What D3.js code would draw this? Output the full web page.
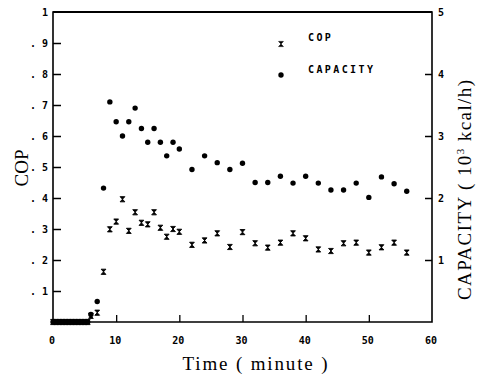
<!DOCTYPE html>
<html><head><meta charset="utf-8">
<script src="https://cdn.jsdelivr.net/npm/d3@7"></script>
<style>body{margin:0;background:#fff}svg{display:block}</style>
</head><body>
<svg id="c" width="480" height="379"></svg>
<script>
const zeroTimes = [0,0.5,1,1.5,2,2.5,3,3.5,4,4.5,5,5.5];
const times = [6,7,8,9,10,11,12,13,14,15,16,17,18,19,20,22,24,26,28,30,32,34,36,38,40,42,44,46,48,50,52,54,56];
const copValues = [0.02,0.03,0.162,0.299,0.324,0.396,0.294,0.354,0.32,0.315,0.354,0.304,0.275,0.30,0.291,0.249,0.263,0.286,0.242,0.29,0.254,0.24,0.256,0.286,0.27,0.234,0.229,0.254,0.256,0.224,0.241,0.256,0.224];
const capacityValues = [0.12,0.33,2.16,3.55,3.23,3.0,3.23,3.45,3.12,2.90,3.12,2.90,2.68,2.90,2.79,2.46,2.68,2.57,2.46,2.56,2.25,2.25,2.35,2.24,2.35,2.24,2.13,2.13,2.24,2.01,2.34,2.23,2.11];
const xTicks = [0,10,20,30,40,50,60];
const copTicks = [0.1,0.2,0.3,0.4,0.5,0.6,0.7,0.8,0.9,1];
const copTickLabels = [". 1",". 2",". 3",". 4",". 5",". 6",". 7",". 8",". 9","1"];
const capTicks = [1,2,3,4,5];

const svg = d3.select('#c');
const L=53, R=432, T=12, B=322;
const x = d3.scaleLinear().domain([0,60]).range([L,R]);
const yCop = d3.scaleLinear().domain([0,1]).range([B,T]);
const yCap = d3.scaleLinear().domain([0,5]).range([B,T]);
const mono = "'DejaVu Sans Mono', monospace";
const serif = "'Liberation Serif','DejaVu Serif',serif";

// frame
svg.append('path').attr('d',`M${L},${T}H${R}V${B}H${L}Z`).attr('fill','none').attr('stroke','#000').attr('stroke-width',1.6);
svg.append('line').attr('x1',L).attr('x2',R).attr('y1',T).attr('y2',T).attr('stroke','#000').attr('stroke-width',2.2);

// left axis
const gl = svg.append('g').attr('transform',`translate(${L},0)`)
  .call(d3.axisRight(yCop).tickValues(copTicks).tickSize(8).tickFormat(''));
gl.select('.domain').remove();
gl.selectAll('line').attr('stroke-width',1.5);
gl.selectAll('.tick').filter(d=>d===1).select('line').remove();
svg.append('g').selectAll('text').data(copTicks).join('text')
  .attr('x',L-5).attr('y',d=>yCop(d)+3.5).attr('text-anchor','end')
  .attr('font-family',mono).attr('font-weight','bold').attr('font-size',10)
  .text((d,i)=>copTickLabels[i]);

// right axis
const gr = svg.append('g').attr('transform',`translate(${R},0)`)
  .call(d3.axisLeft(yCap).tickValues(capTicks).tickSize(7).tickFormat(''));
gr.select('.domain').remove();
gr.selectAll('line').attr('stroke-width',1.5);
gr.selectAll('.tick').filter(d=>d===5).select('line').remove();
svg.append('g').selectAll('text').data(capTicks).join('text')
  .attr('x',R+6).attr('y',d=>yCap(d)+4).attr('text-anchor','start')
  .attr('font-family',mono).attr('font-weight','bold').attr('font-size',10)
  .text(d=>d);

// bottom axis
const gb = svg.append('g').attr('transform',`translate(0,${B})`)
  .call(d3.axisTop(x).tickValues(xTicks.slice(1,-1)).tickSize(7).tickFormat(''));
gb.select('.domain').remove();
gb.selectAll('line').attr('stroke-width',1.3);
svg.append('g').selectAll('text').data(xTicks).join('text')
  .attr('x',d=>x(d)-1).attr('y',B+22).attr('text-anchor','middle')
  .attr('font-family',mono).attr('font-weight','bold').attr('font-size',10)
  .text(d=>d);

// titles
svg.append('text').attr('transform',`translate(28,168) rotate(-90)`).attr('text-anchor','middle')
  .attr('font-family',serif).attr('font-size',19).text('COP');
const capTitle = svg.append('text').attr('transform',`translate(471,190) rotate(-90)`).attr('text-anchor','middle')
  .attr('font-family',serif).attr('font-size',19).attr('textLength',220).attr('lengthAdjust','spacing');
capTitle.append('tspan').text('CAPACITY ( 10');
capTitle.append('tspan').attr('dy',-7).attr('font-size',11).text('3');
capTitle.append('tspan').attr('dy',7).text(' kcal/h)');
svg.append('text').attr('x',255).attr('y',370).attr('text-anchor','middle')
  .attr('font-family',serif).attr('font-size',19).attr('textLength',145).attr('lengthAdjust','spacing').text('Time ( minute )');

// markers
const hg = 'M-2.4,-2.6L2.4,-2.6L-2.4,2.6L2.4,2.6Z';
const capData = zeroTimes.map(t=>({t,v:0})).concat(times.map((t,i)=>({t,v:capacityValues[i]})));
const copData = zeroTimes.map(t=>({t,v:0})).concat(times.map((t,i)=>({t,v:copValues[i]})));
svg.append('g').selectAll('circle').data(capData).join('circle')
  .attr('cx',d=>x(d.t)).attr('cy',d=>yCap(d.v)).attr('r',2.7).attr('fill','#000');
svg.append('g').selectAll('path').data(copData).join('path')
  .attr('d',hg).attr('transform',d=>`translate(${x(d.t)},${yCop(d.v)})`)
  .attr('fill','#000').attr('stroke','#000').attr('stroke-width',0.9);

// legend
const lg = svg.append('g');
lg.append('path').attr('d',hg).attr('transform','translate(281,44)').attr('fill','#000').attr('stroke','#000').attr('stroke-width',0.6);
lg.append('circle').attr('cx',281).attr('cy',75).attr('r',2.7).attr('fill','#000');
lg.append('text').attr('x',308).attr('y',41).attr('font-family',mono).attr('font-weight','bold').attr('font-size',10).attr('letter-spacing',2.4).text('COP');
lg.append('text').attr('x',308).attr('y',73).attr('font-family',mono).attr('font-weight','bold').attr('font-size',10).attr('letter-spacing',2.4).text('CAPACITY');
</script>
</body></html>
